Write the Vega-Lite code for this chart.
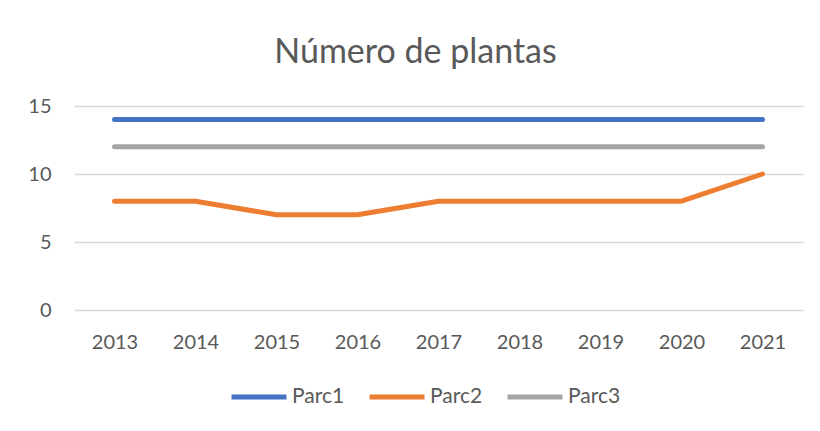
{
  "$schema": "https://vega.github.io/schema/vega-lite/v6.json",
  "autosize": {"type": "none"},
  "width": 729,
  "height": 204,
  "padding": {"left": 74, "top": 106, "right": 17, "bottom": 121},
  "background": "white",
  "title": {
    "text": "Número de plantas",
    "font": "Lato",
    "fontSize": 34,
    "fontWeight": "normal",
    "color": "#595959",
    "anchor": "middle",
    "dx": -23,
    "offset": 26
  },
  "data": {
    "values": [
      {"year": "2013", "series": "Parc1", "value": 14},
      {"year": "2014", "series": "Parc1", "value": 14},
      {"year": "2015", "series": "Parc1", "value": 14},
      {"year": "2016", "series": "Parc1", "value": 14},
      {"year": "2017", "series": "Parc1", "value": 14},
      {"year": "2018", "series": "Parc1", "value": 14},
      {"year": "2019", "series": "Parc1", "value": 14},
      {"year": "2020", "series": "Parc1", "value": 14},
      {"year": "2021", "series": "Parc1", "value": 14},
      {"year": "2013", "series": "Parc2", "value": 8},
      {"year": "2014", "series": "Parc2", "value": 8},
      {"year": "2015", "series": "Parc2", "value": 7},
      {"year": "2016", "series": "Parc2", "value": 7},
      {"year": "2017", "series": "Parc2", "value": 8},
      {"year": "2018", "series": "Parc2", "value": 8},
      {"year": "2019", "series": "Parc2", "value": 8},
      {"year": "2020", "series": "Parc2", "value": 8},
      {"year": "2021", "series": "Parc2", "value": 10},
      {"year": "2013", "series": "Parc3", "value": 12},
      {"year": "2014", "series": "Parc3", "value": 12},
      {"year": "2015", "series": "Parc3", "value": 12},
      {"year": "2016", "series": "Parc3", "value": 12},
      {"year": "2017", "series": "Parc3", "value": 12},
      {"year": "2018", "series": "Parc3", "value": 12},
      {"year": "2019", "series": "Parc3", "value": 12},
      {"year": "2020", "series": "Parc3", "value": 12},
      {"year": "2021", "series": "Parc3", "value": 12}
    ]
  },
  "mark": {"type": "line", "strokeWidth": 5, "strokeCap": "round", "strokeJoin": "round"},
  "encoding": {
    "x": {
      "field": "year",
      "type": "ordinal",
      "scale": {"type": "point", "padding": 0.5},
      "axis": {
        "title": null,
        "labelAngle": 0,
        "ticks": false,
        "domain": false,
        "grid": false,
        "labelPadding": 22,
        "labelFont": "Lato",
        "labelFontSize": 20,
        "labelColor": "#595959"
      }
    },
    "y": {
      "field": "value",
      "type": "quantitative",
      "scale": {"domain": [0, 15], "nice": false},
      "axis": {
        "title": null,
        "values": [0, 5, 10, 15],
        "ticks": false,
        "domain": false,
        "gridColor": "#d9d9d9",
        "gridWidth": 1.5,
        "labelPadding": 23,
        "labelFont": "Lato",
        "labelFontSize": 20,
        "labelColor": "#595959"
      }
    },
    "color": {
      "field": "series",
      "type": "nominal",
      "scale": {"domain": ["Parc1", "Parc2", "Parc3"], "range": ["#4472C4", "#ED7D31", "#A5A5A5"]},
      "legend": {
        "title": null,
        "orient": "none",
        "direction": "horizontal",
        "legendX": 155,
        "legendY": 261,
        "symbolType": "stroke",
        "symbolSize": 3025,
        "symbolStrokeWidth": 5,
        "labelFont": "Lato",
        "labelFontSize": 21,
        "labelColor": "#595959",
        "labelOffset": 3,
        "columnPadding": 14
      }
    }
  },
  "config": {"view": {"stroke": null}}
}
